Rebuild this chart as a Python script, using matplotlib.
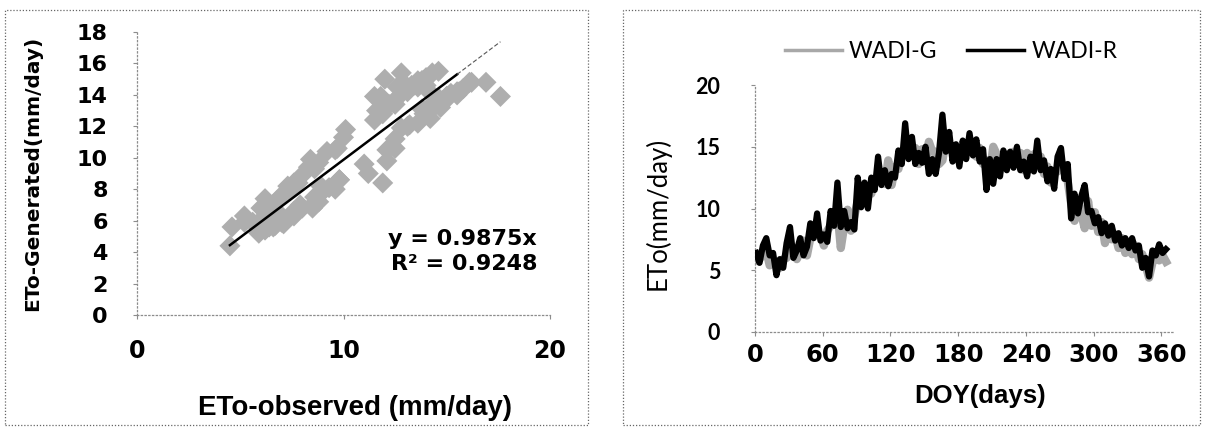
import numpy as np
import matplotlib
matplotlib.use('Agg')
import matplotlib.pyplot as plt
from matplotlib.patches import Rectangle

# daily reference ETo sampled every third day of the year (mm/day)
doy = np.arange(1, 366, 3)
eto_r = [6.4, 5.6, 7.0, 7.6, 6.2, 6.4, 4.6, 5.9, 5.2, 7.2,
         8.5, 6.0, 6.6, 7.6, 6.2, 6.9, 8.8, 7.6, 9.6, 7.4,
         7.9, 7.3, 9.8, 8.6, 12.1, 8.5, 9.8, 8.4, 8.9, 8.3,
         12.5, 10.1, 12.1, 10.0, 12.5, 11.5, 14.2, 11.9, 13.1, 11.8,
         12.8, 12.5, 14.7, 13.6, 16.9, 14.0, 15.8, 13.6, 14.5, 13.7,
         15.0, 12.8, 14.0, 12.8, 14.5, 17.6, 14.6, 16.2, 13.8, 15.2,
         13.4, 15.5, 14.0, 16.1, 14.3, 15.6, 13.8, 14.8, 11.5, 14.0,
         12.0, 14.0, 12.6, 14.7, 13.1, 14.6, 13.3, 15.0, 13.1, 13.8,
         12.6, 14.2, 13.0, 15.5, 13.1, 13.9, 12.2, 13.2, 11.6, 14.2,
         14.9, 12.4, 13.6, 9.2, 11.2, 9.6, 11.0, 11.9, 9.7, 9.8,
         8.8, 9.3, 8.0, 8.8, 7.8, 8.6, 7.4, 8.0, 7.0, 7.6,
         6.8, 7.6, 6.6, 7.0, 5.2, 6.0, 4.5, 6.6, 6.2, 7.1,
         6.4, 6.7]
# weather-generator ETo for the same days (mm/day)
eto_g = [5.8, 5.9, 6.3, 6.6, 5.4, 5.6, 5.6, 5.2, 5.9, 6.0,
         7.0, 6.8, 5.9, 6.5, 7.4, 6.2, 7.6, 8.4, 8.0, 7.9,
         7.0, 8.2, 8.6, 9.3, 9.8, 6.8, 8.6, 9.9, 8.2, 9.4,
         10.6, 11.8, 10.5, 11.3, 11.2, 12.4, 12.5, 12.8, 12.0, 13.9,
         11.9, 13.4, 13.2, 14.5, 14.8, 15.0, 14.4, 14.9, 13.6, 14.8,
         13.9, 15.4, 14.6, 14.6, 13.6, 13.9, 15.5, 14.8, 14.9, 14.1,
         14.6, 14.2, 15.1, 14.8, 15.4, 14.2, 14.9, 13.6, 13.9, 12.8,
         15.0, 14.4, 13.8, 13.6, 14.4, 13.8, 14.6, 13.9, 14.5, 13.1,
         14.5, 13.3, 14.4, 14.0, 14.2, 12.8, 13.4, 12.1, 13.0, 13.0,
         13.6, 13.5, 12.2, 10.4, 9.0, 10.5, 9.6, 8.4, 10.6, 8.6,
         9.7, 8.1, 8.9, 7.2, 8.4, 7.5, 7.9, 6.8, 7.6, 6.4,
         7.3, 6.3, 7.0, 5.9, 6.3, 5.4, 4.4, 5.6, 6.3, 5.8,
         6.2, 5.7]

slope = 0.9875
r2 = 0.9248

bold = dict(family='DejaVu Sans', weight='bold')
arial = dict(family='Liberation Sans', weight='bold')
cal = dict(family=['Lato', 'DejaVu Sans'])

fig = plt.figure(figsize=(12.06, 4.29), dpi=100)
W, H = 1206.0, 429.0

# dotted frames round the two charts
for x0, x1 in [(5, 588), (623, 1200)]:
    fig.patches.append(Rectangle((x0 / W, 4 / H), (x1 - x0) / W, 415 / H,
                                 transform=fig.transFigure, fill=False,
                                 ec='#666666', lw=0.9, ls=(0, (1, 1.5))))


def dotted_axes(ax):
    for s in ['top', 'right']:
        ax.spines[s].set_visible(False)
    for s in ['left', 'bottom']:
        ax.spines[s].set_color('#8c8c8c')
        ax.spines[s].set_linestyle((0, (1, 2)))
        ax.spines[s].set_linewidth(0.9)
    ax.tick_params(color='#8c8c8c', length=3, width=0.8)


# ---- scatter: generated vs observed
ax1 = fig.add_axes([137 / W, 114 / H, 413 / W, 283 / H])
dotted_axes(ax1)
ax1.scatter(eto_r, eto_g, marker='D', s=115, c='#aeaeae', edgecolors='none',
            zorder=2)
xa = min(eto_r)
xb = 15.5
xc = max(eto_r)
ax1.plot([xa, xb], [slope * xa, slope * xb], c='k', lw=1.8, zorder=3)
ax1.plot([xb, xc], [slope * xb, slope * xc], c='#555555', lw=0.8, ls=(0, (4, 2)), zorder=3)
ax1.set_xlim(0, 20)
ax1.set_ylim(0, 18)
ax1.set_xticks([0, 10, 20])
ax1.set_yticks(np.arange(0, 19, 2))
ax1.tick_params(axis='y', pad=18)
ax1.tick_params(axis='x', pad=14)
for t in ax1.get_yticklabels():
    t.set(fontsize=16, **bold)
for t in ax1.get_xticklabels():
    t.set(fontsize=17, **bold)
ax1.set_ylabel('ETo-Generated(mm/day)', fontsize=14.5, **bold)
ax1.yaxis.set_label_coords(-0.23, 0.5)
ax1.set_xlabel('ETo-observed (mm/day)', fontsize=20, **arial)
ax1.xaxis.set_label_coords(0.528, -0.283)
ax1.text(0.969, 0.27, 'y = %.4fx' % slope, transform=ax1.transAxes,
         ha='right', va='center', fontsize=16, **bold)
ax1.text(0.969, 0.18, 'R\u00b2 = %.4f' % r2, transform=ax1.transAxes,
         ha='right', va='center', fontsize=16, **bold)

# ---- daily series over the year
ax2 = fig.add_axes([755 / W, 97 / H, 420 / W, 247 / H])
dotted_axes(ax2)
ax2.plot(doy, eto_g, c='#a8a8a8', lw=6.0, label='WADI-G', zorder=2,
         solid_joinstyle='round')
ax2.plot(doy, eto_r, c='k', lw=4.5, label='WADI-R', zorder=3,
         solid_joinstyle='round')
ax2.set_xlim(0, 372)
ax2.set_ylim(0, 20)
ax2.set_xticks(np.arange(0, 361, 60))
ax2.set_yticks(np.arange(0, 21, 5))
ax2.tick_params(axis='y', pad=22)
ax2.tick_params(axis='x', pad=5)
for t in ax2.get_yticklabels():
    t.set(fontsize=15.5, weight='bold', **cal)
for t in ax2.get_xticklabels():
    t.set(fontsize=17.5, **bold)
ax2.set_ylabel('ETo(mm/day)', fontsize=18.5, **cal)
ax2.yaxis.set_label_coords(-0.2, 0.48)
ax2.set_xlabel('DOY(days)', fontsize=18.5, **arial)
ax2.xaxis.set_label_coords(0.536, -0.21)
leg = fig.legend(*ax2.get_legend_handles_labels(), loc='center', ncol=2,
                 bbox_to_anchor=(951 / W, 1 - 52 / H), frameon=False,
                 prop=dict(family=['Lato', 'DejaVu Sans'], size=16.5),
                 handlelength=2.5, handletextpad=0.3, columnspacing=1.3)
for h in leg.legend_handles:
    h.set_linewidth(2.5)

fig.savefig('out.png', dpi=100)
